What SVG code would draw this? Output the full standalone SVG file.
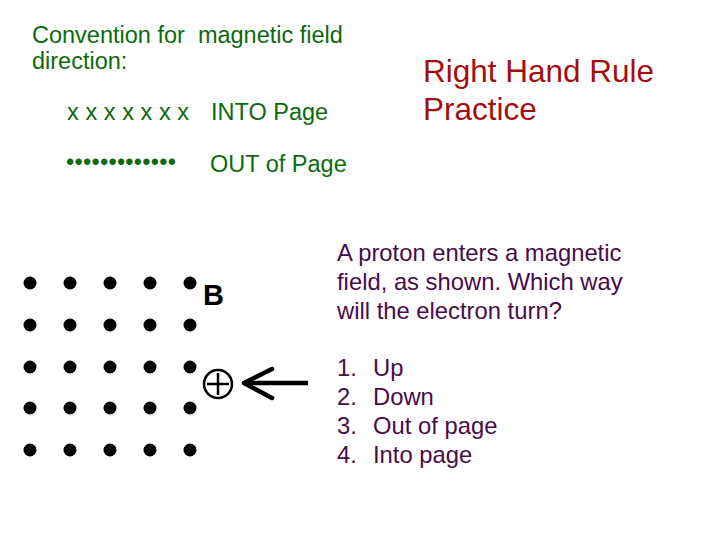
<svg xmlns="http://www.w3.org/2000/svg" width="720" height="540" viewBox="0 0 720 540">
<style>
.g{font-family:"Liberation Sans",Arial,sans-serif;font-size:23.5px;fill:#0b6b0b;white-space:pre}
.r{font-family:"Liberation Sans",Arial,sans-serif;font-size:31.5px;fill:#a50e0e}
.p{font-family:"Liberation Sans",Arial,sans-serif;font-size:23.8px;fill:#4a0a4a}
.b{font-family:"Liberation Sans",Arial,sans-serif;font-size:29px;font-weight:bold;fill:#000}
.d{fill:#000}
</style>
<rect width="720" height="540" fill="#fff"/>
<g id="convention">
<text class="g" x="32" y="43" xml:space="preserve">Convention for  magnetic field</text>
<text class="g" x="32" y="69">direction:</text>
<text class="g" x="67" y="120" textLength="122" lengthAdjust="spacing">x x x x x x x</text>
<text class="g" x="211" y="120">INTO Page</text>
<text class="g" x="66" y="170" textLength="110" lengthAdjust="spacing">•••••••••••••</text>
<text class="g" x="210" y="172">OUT of Page</text>
</g>
<g id="title">
<text class="r" x="423" y="82">Right Hand Rule</text>
<text class="r" x="423" y="120">Practice</text>
</g>
<g id="field">
<g class="d">
<circle cx="30" cy="283" r="6.5"/><circle cx="70" cy="283" r="6.5"/><circle cx="110" cy="283" r="6.5"/><circle cx="150" cy="283" r="6.5"/><circle cx="190" cy="283" r="6.5"/>
<circle cx="30" cy="325" r="6.5"/><circle cx="70" cy="325" r="6.5"/><circle cx="110" cy="325" r="6.5"/><circle cx="150" cy="325" r="6.5"/><circle cx="190" cy="325" r="6.5"/>
<circle cx="30" cy="367" r="6.5"/><circle cx="70" cy="367" r="6.5"/><circle cx="110" cy="367" r="6.5"/><circle cx="150" cy="367" r="6.5"/><circle cx="190" cy="367" r="6.5"/>
<circle cx="30" cy="408" r="6.5"/><circle cx="70" cy="408" r="6.5"/><circle cx="110" cy="408" r="6.5"/><circle cx="150" cy="408" r="6.5"/><circle cx="190" cy="408" r="6.5"/>
<circle cx="30" cy="450" r="6.5"/><circle cx="70" cy="450" r="6.5"/><circle cx="110" cy="450" r="6.5"/><circle cx="150" cy="450" r="6.5"/><circle cx="190" cy="450" r="6.5"/>
</g>
<text class="b" x="203" y="305">B</text>
</g>
<g id="proton">
<circle cx="218" cy="384" r="14" fill="none" stroke="#000" stroke-width="2.5"/>
<path d="M218 373V395M207 384H229" stroke="#000" stroke-width="2.5" fill="none"/>
</g>
<g id="connectors">
<path d="M308 383H244" stroke="#000" stroke-width="4.5" fill="none"/>
<path d="M272 369L244 383L272 398" stroke="#000" stroke-width="4.5" fill="none" stroke-linecap="round" stroke-linejoin="round"/>
</g>
<g id="question">
<text class="p" x="337" y="261">A proton enters a magnetic</text>
<text class="p" x="337" y="290">field, as shown. Which way</text>
<text class="p" x="337" y="319">will the electron turn?</text>
<text class="p" x="337" y="376">1.</text><text class="p" x="373" y="376">Up</text>
<text class="p" x="337" y="405">2.</text><text class="p" x="373" y="405">Down</text>
<text class="p" x="337" y="434">3.</text><text class="p" x="373" y="434">Out of page</text>
<text class="p" x="337" y="463">4.</text><text class="p" x="373" y="463">Into page</text>
</g>
</svg>
